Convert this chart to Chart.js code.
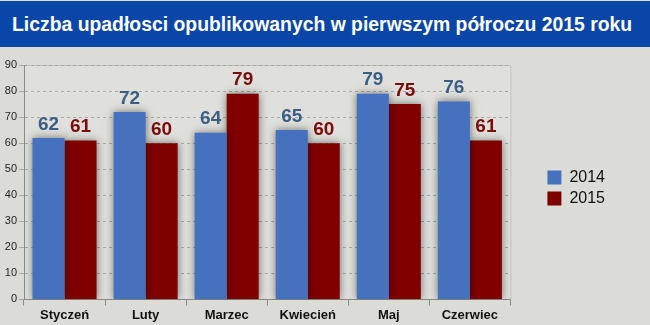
<!DOCTYPE html>
<html>
<head>
<meta charset="utf-8">
<script src="https://cdn.jsdelivr.net/npm/chart.js@4/dist/chart.umd.min.js"></script>
<style>
  html, body { margin: 0; padding: 0; background: #dcdcd7; }
  #wrap { width: 650px; height: 325px; position: relative; overflow: hidden; }
  #title {
    height: 46px; margin-top: 1px; background: #0a46a8; color: #fff;
    font: bold 20px "Liberation Sans", Arial, sans-serif;
    line-height: 46px; white-space: nowrap; position: relative;
  }
  #title span { position: absolute; left: 12px; top: 0; transform-origin: 0 50%; }
  #box { width: 650px; height: 277px; margin-top: 1px; }
</style>
</head>
<body>
<div id="wrap">
  <div id="title"><span id="titleText">Liczba upadłosci opublikowanych w pierwszym półroczu 2015 roku</span></div>
  <div id="box"><canvas id="chart" width="650" height="277"></canvas></div>
</div>
<script>
// miesiące i liczba upadłości
const months = ["Styczeń", "Luty", "Marzec", "Kwiecień", "Maj", "Czerwiec"];
const values2014 = [62, 72, 64, 65, 79, 76];
const values2015 = [61, 60, 79, 60, 75, 61];
const yTicks = [0, 10, 20, 30, 40, 50, 60, 70, 80, 90];

const FONT = "'Liberation Sans', Arial, sans-serif";

// tytuł ściśnięty do szerokości paska
const t = document.getElementById("titleText");
t.style.transform = "scaleX(" + (620 / t.offsetWidth) + ")";

// cień pod słupkami
const barShadow = {
  id: "barShadow",
  beforeDatasetsDraw(chart) {
    const ctx = chart.ctx;
    ctx.save();
    ctx.shadowColor = "rgba(0,0,0,0.5)";
    ctx.shadowBlur = 8;
  },
  afterDatasetsDraw(chart) {
    chart.ctx.restore();
  }
};

// wartości nad słupkami
const valueLabels = {
  id: "valueLabels",
  afterDatasetsDraw(chart) {
    const ctx = chart.ctx;
    const colors = ["#3c5d88", "#7a0c0c"];
    ctx.save();
    ctx.font = "bold 19px " + FONT;
    ctx.textAlign = "center";
    ctx.textBaseline = "bottom";
    chart.data.datasets.forEach((ds, i) => {
      ctx.fillStyle = colors[i];
      chart.getDatasetMeta(i).data.forEach((bar, j) => {
        ctx.fillText(ds.data[j], bar.x, bar.y - 4);
      });
    });
    ctx.restore();
  }
};

// tło i ramka obszaru wykresu
const plotBg = {
  id: "plotBg",
  beforeDraw(chart) {
    const { ctx, chartArea: a } = chart;
    ctx.save();
    ctx.fillStyle = "#dfdfdb";
    ctx.fillRect(a.left, a.top, a.right - a.left, a.bottom - a.top);
    ctx.strokeStyle = "#c2c2bd";
    ctx.beginPath();
    ctx.moveTo(a.left, a.top + 0.5);
    ctx.lineTo(a.right + 0.5, a.top + 0.5);
    ctx.lineTo(a.right + 0.5, a.bottom);
    ctx.stroke();
    ctx.restore();
  }
};

// legenda przesunięta w prawo, dalej od obszaru wykresu
const legendShift = {
  id: "legendShift",
  afterLayout(chart) {
    const lg = chart.legend;
    lg.left += 32; lg.right += 32;
    lg.top -= 7; lg.bottom -= 7;
  }
};

new Chart(document.getElementById("chart"), {
  type: "bar",
  data: {
    labels: months,
    datasets: [
      { label: "2014", data: values2014, backgroundColor: "#4571bf" },
      { label: "2015", data: values2015, backgroundColor: "#800000" }
    ]
  },
  options: {
    responsive: false,
    animation: false,
    layout: { padding: { top: 17, right: 67, left: 0, bottom: 0 } },
    datasets: { bar: { categoryPercentage: 0.79, barPercentage: 1.0 } },
    plugins: {
      title: { display: false },
      tooltip: { enabled: false },
      legend: {
        position: "right",
        align: "center",
        labels: {
          boxWidth: 14, boxHeight: 14, padding: 5,
          color: "#111", font: { family: FONT, size: 16 }
        }
      }
    },
    scales: {
      x: {
        grid: { drawOnChartArea: false, offset: true, tickLength: 6, color: "#8a8a86" },
        border: { color: "#8a8a86" },
        ticks: { color: "#111", font: { family: FONT, size: 13, weight: "bold" }, padding: 2 }
      },
      y: {
        min: 0, max: 90,
        afterFit(s) { s.width = 24; },
        afterBuildTicks(s) { s.ticks = yTicks.map(v => ({ value: v })); },
        grid: { color: "#a8a8a4", tickLength: 5 },
        border: { color: "#8a8a86", dash: [3, 3] },
        ticks: { color: "#222", font: { family: FONT, size: 11 }, padding: 2 }
      }
    }
  },
  plugins: [plotBg, barShadow, valueLabels, legendShift]
});
</script>
</body>
</html>
